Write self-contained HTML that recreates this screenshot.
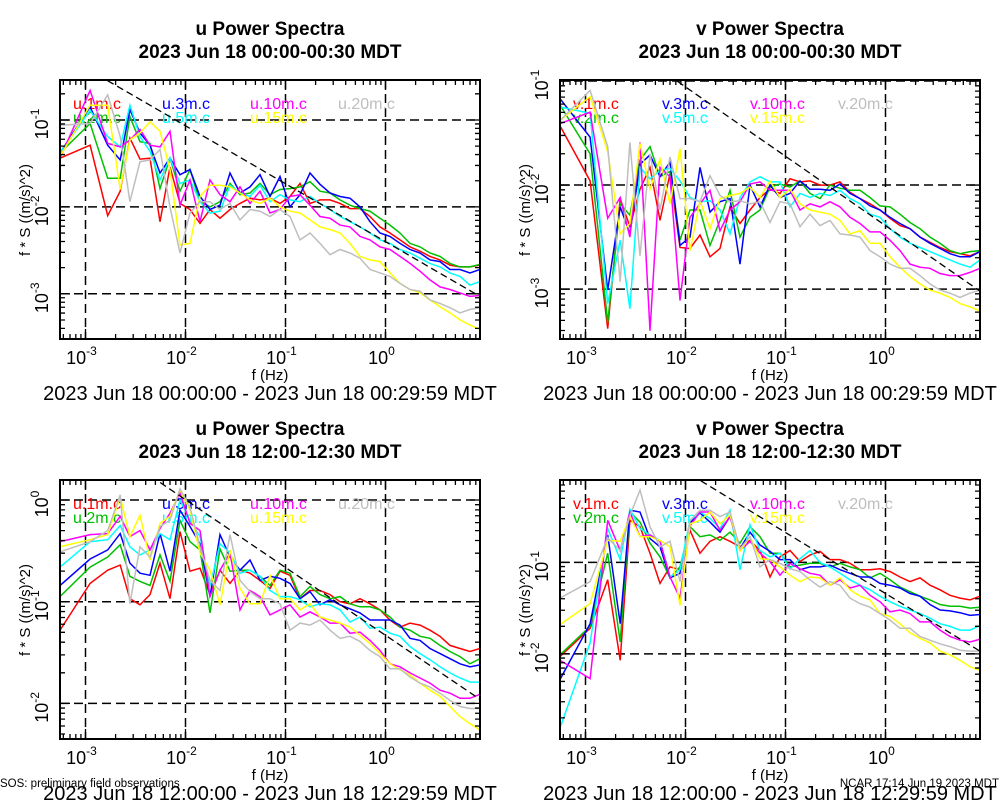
<!DOCTYPE html>
<html><head><meta charset="utf-8">
<style>
html,body{margin:0;padding:0;background:#fff;}
svg{display:block;font-family:"Liberation Sans",Arial,sans-serif;}
</style></head>
<body>
<svg id="chart" width="1000" height="800" viewBox="0 0 1000 800" xmlns="http://www.w3.org/2000/svg">
<rect x="0" y="0" width="1000" height="800" fill="#fff"/>
<text x="0" y="787" font-size="11.5">SOS: preliminary field observations</text>
<text x="999" y="787" font-size="11.5" text-anchor="end">NCAR 17:14 Jun 19 2023 MDT</text>
</svg>
<script>
// frequencies (Hz)
const freqs = [5.556e-4,1.111e-3,1.667e-3,2.222e-3,2.778e-3,
 3.51e-3,4.42e-3,5.56e-3,7.00e-3,8.81e-3,1.109e-2,1.396e-2,1.758e-2,2.213e-2,2.786e-2,
 3.508e-2,4.416e-2,5.559e-2,6.998e-2,8.810e-2,0.1109,0.1396,0.1758,0.2213,0.2786,
 0.3508,0.4416,0.5559,0.6998,0.8810,1.109,1.396,1.758,2.213,2.786,3.508,4.416,5.559,6.998,8.810];
const xTickExps = [-3,-2,-1,0];
// log10 of f*S ((m/s)^2)  — panel u, 00:00-00:30
const u1m_am = [-1.44,-1.29,-2.10,-1.82,-1.21,-1.45,-1.44,-2.17,-1.54,-1.96,-2.03,-2.19,-2.03,-2.13,-2.03,-1.96,-1.90,-1.92,-1.90,-1.96,-1.88,-1.73,-1.96,-1.92,-1.92,-1.96,-2.02,-2.02,-2.11,-2.23,-2.30,-2.38,-2.46,-2.51,-2.57,-2.61,-2.67,-2.69,-2.69,-2.67];
const u2m_am = [-1.38,-1.04,-1.67,-1.67,-0.96,-1.25,-1.27,-1.79,-1.44,-1.82,-1.57,-1.94,-2.00,-1.94,-1.73,-1.86,-1.84,-1.73,-1.86,-1.80,-1.79,-1.77,-1.71,-1.82,-1.84,-1.92,-1.98,-2.02,-2.05,-2.13,-2.21,-2.30,-2.42,-2.46,-2.53,-2.57,-2.65,-2.69,-2.69,-2.66];
const u3m_am = [-1.38,-0.85,-1.29,-1.46,-0.88,-1.15,-1.29,-1.61,-1.44,-1.63,-1.57,-1.88,-2.03,-1.98,-1.61,-1.84,-1.77,-1.63,-1.88,-1.65,-2.00,-1.86,-1.61,-1.74,-1.84,-1.88,-1.90,-2.00,-2.17,-2.30,-2.34,-2.42,-2.49,-2.53,-2.61,-2.63,-2.72,-2.72,-2.76,-2.72];
const u5m_am = [-1.38,-0.89,-1.19,-1.31,-0.83,-1.19,-1.36,-1.69,-1.44,-1.73,-1.69,-1.94,-2.07,-2.05,-1.75,-1.84,-1.88,-1.75,-1.94,-1.86,-1.92,-1.94,-1.88,-1.96,-2.03,-2.11,-2.17,-2.23,-2.30,-2.38,-2.42,-2.49,-2.53,-2.59,-2.65,-2.69,-2.76,-2.80,-2.90,-2.86];
const u10m_am = [-1.44,-0.66,-1.27,-1.31,-1.23,-1.11,-1.29,-1.31,-1.13,-1.98,-1.69,-2.17,-1.69,-1.86,-1.94,-1.77,-1.96,-1.82,-2.07,-2.03,-1.88,-1.86,-1.98,-2.11,-2.13,-2.21,-2.23,-2.34,-2.38,-2.46,-2.49,-2.57,-2.65,-2.74,-2.84,-2.92,-2.95,-2.99,-3.03,-3.02];
const u15m_am = [-1.42,-0.83,-0.83,-1.80,-1.23,-1.15,-1.02,-1.13,-1.57,-2.44,-2.42,-1.88,-1.75,-1.75,-1.77,-1.84,-1.92,-1.96,-1.90,-2.00,-2.05,-2.07,-2.15,-2.23,-2.26,-2.30,-2.42,-2.57,-2.61,-2.63,-2.76,-2.88,-2.95,-2.99,-3.07,-3.15,-3.22,-3.30,-3.36,-3.41];
const u20m_am = [-1.06,-1.04,-0.71,-1.19,-1.94,-1.48,-1.46,-1.34,-2.00,-2.53,-2.07,-1.94,-1.94,-2.03,-1.96,-2.15,-2.03,-2.05,-2.11,-2.03,-2.11,-2.38,-2.30,-2.42,-2.55,-2.49,-2.53,-2.59,-2.72,-2.76,-2.80,-2.88,-2.95,-2.97,-3.07,-3.11,-3.16,-3.22,-3.18,-3.16];
// panel v, 00:00-00:30
const v1m_am = [-1.43,-1.96,-3.38,-2.13,-2.40,-2.04,-1.83,-2.34,-1.89,-2.60,-2.61,-2.48,-2.69,-2.61,-2.21,-2.37,-2.24,-2.12,-2.04,-2.08,-1.94,-1.97,-1.96,-2.00,-2.00,-1.97,-2.07,-2.13,-2.18,-2.24,-2.32,-2.39,-2.42,-2.50,-2.55,-2.60,-2.64,-2.66,-2.68,-2.64];
const v2m_am = [-1.23,-1.70,-3.32,-2.18,-2.29,-1.76,-1.63,-1.92,-1.87,-2.53,-2.24,-2.24,-2.58,-2.34,-2.05,-2.50,-2.31,-2.24,-2.02,-1.99,-2.02,-1.96,-2.08,-2.13,-2.00,-2.03,-2.05,-2.05,-2.12,-2.20,-2.21,-2.28,-2.36,-2.42,-2.50,-2.56,-2.63,-2.66,-2.64,-2.63];
const v3m_am = [-1.17,-1.54,-3.01,-2.21,-2.47,-1.80,-1.71,-1.92,-1.78,-2.58,-2.50,-1.83,-2.26,-2.16,-2.13,-2.76,-2.00,-2.21,-2.00,-2.12,-2.08,-1.96,-2.04,-2.04,-2.05,-1.99,-2.08,-2.13,-2.20,-2.24,-2.31,-2.37,-2.42,-2.50,-2.56,-2.61,-2.66,-2.69,-2.69,-2.64];
const v5m_am = [-1.25,-1.31,-3.14,-2.53,-3.19,-1.83,-1.94,-1.86,-1.84,-1.96,-2.12,-2.16,-2.15,-2.24,-2.47,-2.12,-1.97,-1.92,-1.97,-1.97,-2.21,-2.08,-2.12,-2.08,-2.10,-2.05,-2.13,-2.18,-2.28,-2.31,-2.42,-2.50,-2.56,-2.60,-2.64,-2.68,-2.72,-2.76,-2.79,-2.72];
const v10m_am = [-1.41,-1.30,-2.32,-2.12,-2.50,-1.59,-3.40,-1.83,-1.92,-3.11,-2.31,-2.18,-2.05,-2.44,-2.24,-2.16,-1.99,-1.97,-2.05,-2.05,-2.05,-2.24,-2.18,-2.21,-2.16,-2.21,-2.31,-2.37,-2.45,-2.45,-2.53,-2.63,-2.76,-2.79,-2.80,-2.85,-2.87,-2.87,-2.84,-2.80];
const v15m_am = [-1.38,-1.15,-1.68,-2.47,-2.37,-1.60,-2.04,-1.75,-2.18,-1.65,-2.63,-2.15,-2.42,-2.13,-2.10,-2.08,-2.02,-2.12,-1.96,-2.12,-2.04,-2.18,-2.24,-2.26,-2.28,-2.34,-2.47,-2.44,-2.56,-2.56,-2.69,-2.79,-2.88,-2.95,-3.01,-3.04,-3.08,-3.14,-3.17,-3.21];
const v20m_am = [-1.38,-1.09,-1.63,-2.93,-1.59,-2.68,-1.70,-2.24,-1.73,-2.13,-2.13,-2.16,-1.91,-2.10,-2.16,-2.15,-2.18,-2.16,-2.36,-2.16,-2.18,-2.40,-2.28,-2.39,-2.34,-2.47,-2.48,-2.50,-2.63,-2.69,-2.76,-2.80,-2.80,-2.87,-2.95,-3.01,-3.04,-3.08,-3.04,-3.01];
// panel u, 12:00-12:30
const u1m_pm = [-1.28,-0.82,-0.69,-0.64,-0.97,-1.03,-0.93,-0.62,-0.97,-0.31,-0.70,-0.67,-0.93,-0.69,-0.82,-0.69,-0.72,-0.79,-0.87,-0.70,-0.74,-0.97,-0.89,-0.89,-0.93,-1.00,-1.02,-0.97,-1.02,-1.08,-1.18,-1.25,-1.21,-1.23,-1.28,-1.34,-1.43,-1.46,-1.49,-1.46];
const u2m_pm = [-0.95,-0.66,-0.56,-0.44,-0.75,-0.80,-0.84,-0.54,-0.80,-0.20,-0.41,-0.49,-1.11,-0.48,-0.70,-0.69,-0.69,-0.75,-0.84,-0.69,-0.72,-0.95,-0.85,-0.93,-0.97,-0.95,-1.02,-1.05,-1.05,-1.08,-1.15,-1.25,-1.28,-1.34,-1.36,-1.43,-1.49,-1.54,-1.61,-1.56];
const u3m_pm = [-0.84,-0.58,-0.49,-0.33,-0.62,-0.72,-0.74,-0.33,-0.70,-0.10,-0.26,-0.43,-0.95,-0.34,-0.56,-0.69,-0.59,-0.79,-0.75,-0.77,-0.82,-0.97,-0.90,-1.03,-0.98,-1.03,-1.07,-1.11,-1.18,-1.18,-1.18,-1.23,-1.36,-1.38,-1.46,-1.51,-1.56,-1.61,-1.64,-1.62];
const u5m_pm = [-0.66,-0.41,-0.39,-0.25,-0.46,-0.54,-0.49,-0.33,-0.39,0.00,-0.20,-0.36,-0.85,-0.43,-0.52,-0.72,-0.69,-0.75,-0.89,-0.95,-0.95,-0.98,-1.05,-1.02,-1.03,-1.08,-1.20,-1.15,-1.26,-1.25,-1.31,-1.34,-1.44,-1.51,-1.57,-1.64,-1.70,-1.75,-1.79,-1.79];
const u10m_pm = [-0.41,-0.34,-0.33,-0.16,-0.36,-0.30,-0.49,-0.28,-0.13,0.07,-0.23,-0.30,-0.95,-0.69,-0.52,-1.08,-0.89,-0.95,-1.13,-1.08,-1.03,-1.15,-1.10,-1.15,-1.21,-1.21,-1.31,-1.30,-1.38,-1.48,-1.61,-1.64,-1.70,-1.75,-1.80,-1.87,-1.90,-1.95,-1.95,-1.91];
const u15m_pm = [-0.46,-0.39,-0.34,0.03,-0.36,-0.15,-0.59,-0.23,-0.16,0.10,-0.10,-0.52,-0.69,-1.03,-0.49,-0.87,-1.02,-1.02,-0.74,-0.97,-0.97,-1.08,-1.02,-1.15,-1.18,-1.21,-1.25,-1.33,-1.41,-1.51,-1.61,-1.67,-1.72,-1.80,-1.87,-1.93,-2.03,-2.13,-2.20,-2.26];
const u20m_pm = [-0.51,-0.41,-0.30,0.05,-1.02,-0.46,-0.56,-0.26,-0.20,0.11,-0.07,-0.46,-0.79,-0.89,-0.34,-0.79,-0.90,-0.97,-0.97,-1.02,-1.28,-1.21,-1.23,-1.18,-1.28,-1.36,-1.34,-1.39,-1.48,-1.54,-1.66,-1.66,-1.74,-1.80,-1.84,-1.90,-1.97,-2.03,-2.05,-2.05];
// panel v, 12:00-12:30
const v1m_pm = [-2.03,-1.72,-1.19,-2.07,-0.54,-0.61,-0.90,-1.23,-1.05,-1.08,-0.65,-0.90,-0.77,-0.72,-0.77,-0.83,-0.76,-0.87,-1.16,-0.94,-0.87,-0.99,-0.92,-0.88,-0.97,-0.97,-1.01,-1.08,-1.08,-1.07,-1.10,-1.16,-1.21,-1.17,-1.25,-1.30,-1.36,-1.39,-1.41,-1.37];
const v2m_pm = [-2.01,-1.70,-0.90,-1.87,-0.45,-0.56,-0.79,-0.94,-1.17,-1.05,-0.61,-0.72,-0.70,-0.76,-0.67,-0.79,-0.61,-0.72,-0.90,-0.90,-1.05,-1.03,-1.01,-1.01,-1.05,-1.01,-1.05,-1.08,-1.17,-1.12,-1.19,-1.27,-1.32,-1.37,-1.41,-1.46,-1.48,-1.48,-1.50,-1.49];
const v3m_pm = [-2.28,-1.67,-0.70,-1.67,-0.43,-0.45,-0.74,-0.83,-1.17,-1.12,-0.57,-0.46,-0.56,-0.67,-0.50,-0.85,-0.67,-0.81,-0.88,-0.97,-0.97,-1.08,-1.05,-1.05,-1.03,-1.08,-1.12,-1.16,-1.16,-1.23,-1.25,-1.28,-1.34,-1.37,-1.46,-1.52,-1.53,-1.55,-1.58,-1.57];
const v5m_pm = [-2.81,-1.88,-0.63,-0.97,-0.42,-0.63,-0.70,-0.76,-1.16,-1.08,-0.54,-0.45,-0.52,-0.63,-0.43,-1.08,-0.59,-0.87,-0.94,-0.90,-1.07,-0.96,-0.87,-1.00,-1.05,-1.12,-1.19,-1.25,-1.30,-1.37,-1.43,-1.48,-1.52,-1.56,-1.61,-1.67,-1.70,-1.74,-1.74,-1.69];
const v10m_pm = [-2.07,-2.27,-0.54,-0.87,-0.45,-0.72,-0.70,-0.77,-1.16,-1.39,-0.60,-0.45,-0.45,-0.65,-0.50,-0.87,-0.77,-0.90,-0.99,-1.14,-1.01,-1.07,-1.12,-1.14,-1.25,-1.19,-1.28,-1.25,-1.36,-1.43,-1.54,-1.52,-1.56,-1.65,-1.65,-1.74,-1.81,-1.85,-1.87,-1.84];
const v15m_pm = [-1.68,-1.45,-0.76,-0.77,-0.50,-0.72,-0.72,-0.76,-0.83,-1.47,-0.58,-0.54,-0.45,-0.58,-0.48,-0.88,-0.72,-0.96,-0.97,-1.05,-1.14,-1.21,-1.16,-1.17,-1.25,-1.17,-1.30,-1.37,-1.41,-1.56,-1.59,-1.67,-1.77,-1.83,-1.88,-1.97,-2.01,-2.07,-2.14,-2.18];
const v20m_pm = [-1.39,-1.21,-0.73,-0.87,-0.49,-0.21,-0.61,-0.83,-0.77,-1.21,-0.54,-0.43,-0.43,-0.50,-0.45,-0.85,-0.72,-1.05,-0.97,-1.01,-1.07,-1.10,-1.19,-1.27,-1.21,-1.25,-1.39,-1.45,-1.49,-1.56,-1.63,-1.72,-1.72,-1.81,-1.85,-1.89,-1.92,-1.96,-1.97,-1.97];
// reference -2/3 slope line: log10 level at f = 1 Hz, per panel
const refLevel = [-2.40,-2.39,-1.33,-1.34];
const refSlope = -2/3;

const colors = ["#ff0000","#00c000","#0000ff","#00ffff","#ff00ff","#ffff00","#bebebe"];
const heights = ["1m","2m","3m","5m","10m","15m","20m"];
const svg = document.getElementById('chart');
const NS = "http://www.w3.org/2000/svg";
function mk(tag, attrs, parent){
  const e = document.createElementNS(NS, tag);
  for (const k in attrs) e.setAttribute(k, attrs[k]);
  (parent||svg).appendChild(e);
  return e;
}
const panels = [
 {v:"u", x0:60, y0:80, ymin:-3.52, ymax:-0.54, yt:[-1,-2,-3], time:"00:00-00:30", range:"2023 Jun 18 00:00:00 - 2023 Jun 18 00:29:59 MDT", data:[u1m_am,u2m_am,u3m_am,u5m_am,u10m_am,u15m_am,u20m_am]},
 {v:"v", x0:560, y0:80, ymin:-3.48, ymax:-0.99, yt:[-1,-2,-3], time:"00:00-00:30", range:"2023 Jun 18 00:00:00 - 2023 Jun 18 00:29:59 MDT", data:[v1m_am,v2m_am,v3m_am,v5m_am,v10m_am,v15m_am,v20m_am]},
 {v:"u", x0:60, y0:480, ymin:-2.35, ymax:0.197, yt:[0,-1,-2], time:"12:00-12:30", range:"2023 Jun 18 12:00:00 - 2023 Jun 18 12:29:59 MDT", data:[u1m_pm,u2m_pm,u3m_pm,u5m_pm,u10m_pm,u15m_pm,u20m_pm]},
 {v:"v", x0:560, y0:480, ymin:-2.93, ymax:-0.10, yt:[-1,-2], time:"12:00-12:30", range:"2023 Jun 18 12:00:00 - 2023 Jun 18 12:29:59 MDT", data:[v1m_pm,v2m_pm,v3m_pm,v5m_pm,v10m_pm,v15m_pm,v20m_pm]}
];
const W = 420, H = 259, XMIN = -3.255, XMAX = 0.945;
const legendCols = [13, 102, 190, 278];
const legendOrder = [[0,0,0],[1,0,1],[2,1,0],[3,1,1],[4,2,0],[5,2,1],[6,3,0]];

panels.forEach((p, pi) => {
  const xs = lf => p.x0 + (lf - XMIN) / (XMAX - XMIN) * W;
  const ys = lv => p.y0 + (p.ymax - lv) / (p.ymax - p.ymin) * H;
  const cx = p.x0 + 210;
  const g = mk('g', {});
  
  
  const t1 = mk('text', {x:cx, y:p.y0-45, 'font-size':19, 'font-weight':'bold', 'text-anchor':'middle'}, g);
  t1.textContent = p.v + ' Power Spectra';
  
  
  const t2 = mk('text', {x:cx, y:p.y0-22, 'font-size':19, 'font-weight':'bold', 'text-anchor':'middle'}, g);
  t2.textContent = '2023 Jun 18 ' + p.time + ' MDT';
  
  
  const clipId = 'clip' + pi;
  const cp = mk('clipPath', {id:clipId}, g);
  mk('rect', {x:p.x0, y:p.y0, width:W, height:H}, cp);
  xTickExps.forEach(e => {
    const l = mk('line', {x1:xs(e), x2:xs(e), y1:p.y0, y2:p.y0+H, stroke:'#000', 'stroke-width':1.5, 'stroke-dasharray':'9,5'}, g);
    
    
  });
  p.yt.forEach(e => {
    const l = mk('line', {x1:p.x0, x2:p.x0+W, y1:ys(e), y2:ys(e), stroke:'#000', 'stroke-width':1.5, 'stroke-dasharray':'9,5'}, g);
    
    
  });
  legendOrder.forEach(([si, col, row]) => {
    const t = mk('text', {x:p.x0 + legendCols[col], y:p.y0 + 29 + row*14, 'font-size':16, fill:colors[si]}, g);
    t.textContent = p.v + '.' + heights[si] + '.c';
    
    
  });
  const sg = mk('g', {'clip-path':'url(#' + clipId + ')'}, g);
  p.data.forEach((arr, si) => {
    const pts = arr.map((v, i) => xs(Math.log10(freqs[i])).toFixed(1) + ',' + ys(v).toFixed(1)).join(' ');
    const pl = mk('polyline', {points:pts, fill:'none', stroke:colors[si], 'stroke-width':1.5, 'stroke-linejoin':'miter'}, sg);
    
    
  });
  const rl = mk('line', {x1:xs(XMIN), y1:ys(refLevel[pi] + refSlope*XMIN), x2:xs(XMAX), y2:ys(refLevel[pi] + refSlope*XMAX), stroke:'#000', 'stroke-width':1.3, 'stroke-dasharray':'7,4'}, sg);
  
  
  const fr = mk('rect', {x:p.x0, y:p.y0, width:W, height:H, fill:'none', stroke:'#000', 'stroke-width':2}, g);
  
  
  let td = '';
  for (let d = -4; d <= 1; d++) for (let m = 1; m <= 9; m++) {
    const lf = d + Math.log10(m);
    if (lf < XMIN || lf > XMAX) continue;
    const L = m === 1 ? 10 : 5, X = xs(lf);
    td += `M${X},${p.y0+H}v${-L}M${X},${p.y0}v${L}`;
  }
  for (let d = -4; d <= 1; d++) for (let m = 1; m <= 9; m++) {
    const lv = d + Math.log10(m);
    if (lv < p.ymin || lv > p.ymax) continue;
    const L = m === 1 ? 10 : 5, Y = ys(lv);
    td += `M${p.x0},${Y}h${L}M${p.x0+W},${Y}h${-L}`;
  }
  const tk = mk('path', {d:td, stroke:'#000', 'stroke-width':1.3, fill:'none'}, g);
  
  
  xTickExps.forEach(e => {
    const t = mk('text', {x:xs(e) - 4, y:p.y0 + H + 25, 'font-size':18, 'text-anchor':'middle'}, g);
    t.textContent = '10';
    const s = mk('tspan', {'font-size':12, dy:-9}, t);
    s.textContent = String(e);
    
    
  });
  p.yt.forEach(e => {
    const Y = ys(e);
    const t = mk('text', {x:0, y:0, 'font-size':18, 'text-anchor':'middle', transform:`translate(${p.x0-12},${Y+4}) rotate(-90)`}, g);
    t.textContent = '10';
    const s = mk('tspan', {'font-size':12, dy:-9}, t);
    s.textContent = String(e);
    
    
  });
  const yt = mk('text', {x:0, y:0, 'font-size':15, 'text-anchor':'middle', transform:`translate(${p.x0-30},${p.y0+130}) rotate(-90)`}, g);
  yt.textContent = 'f * S ((m/s)^2)';
  
  
  const xt = mk('text', {x:cx, y:p.y0+H+41, 'font-size':15, 'text-anchor':'middle'}, g);
  xt.textContent = 'f (Hz)';
  
  
  const rt = mk('text', {x:cx, y:p.y0+H+61, 'font-size':20, 'text-anchor':'middle'}, g);
  rt.textContent = p.range;
  
  
});
</script>
</body></html>
